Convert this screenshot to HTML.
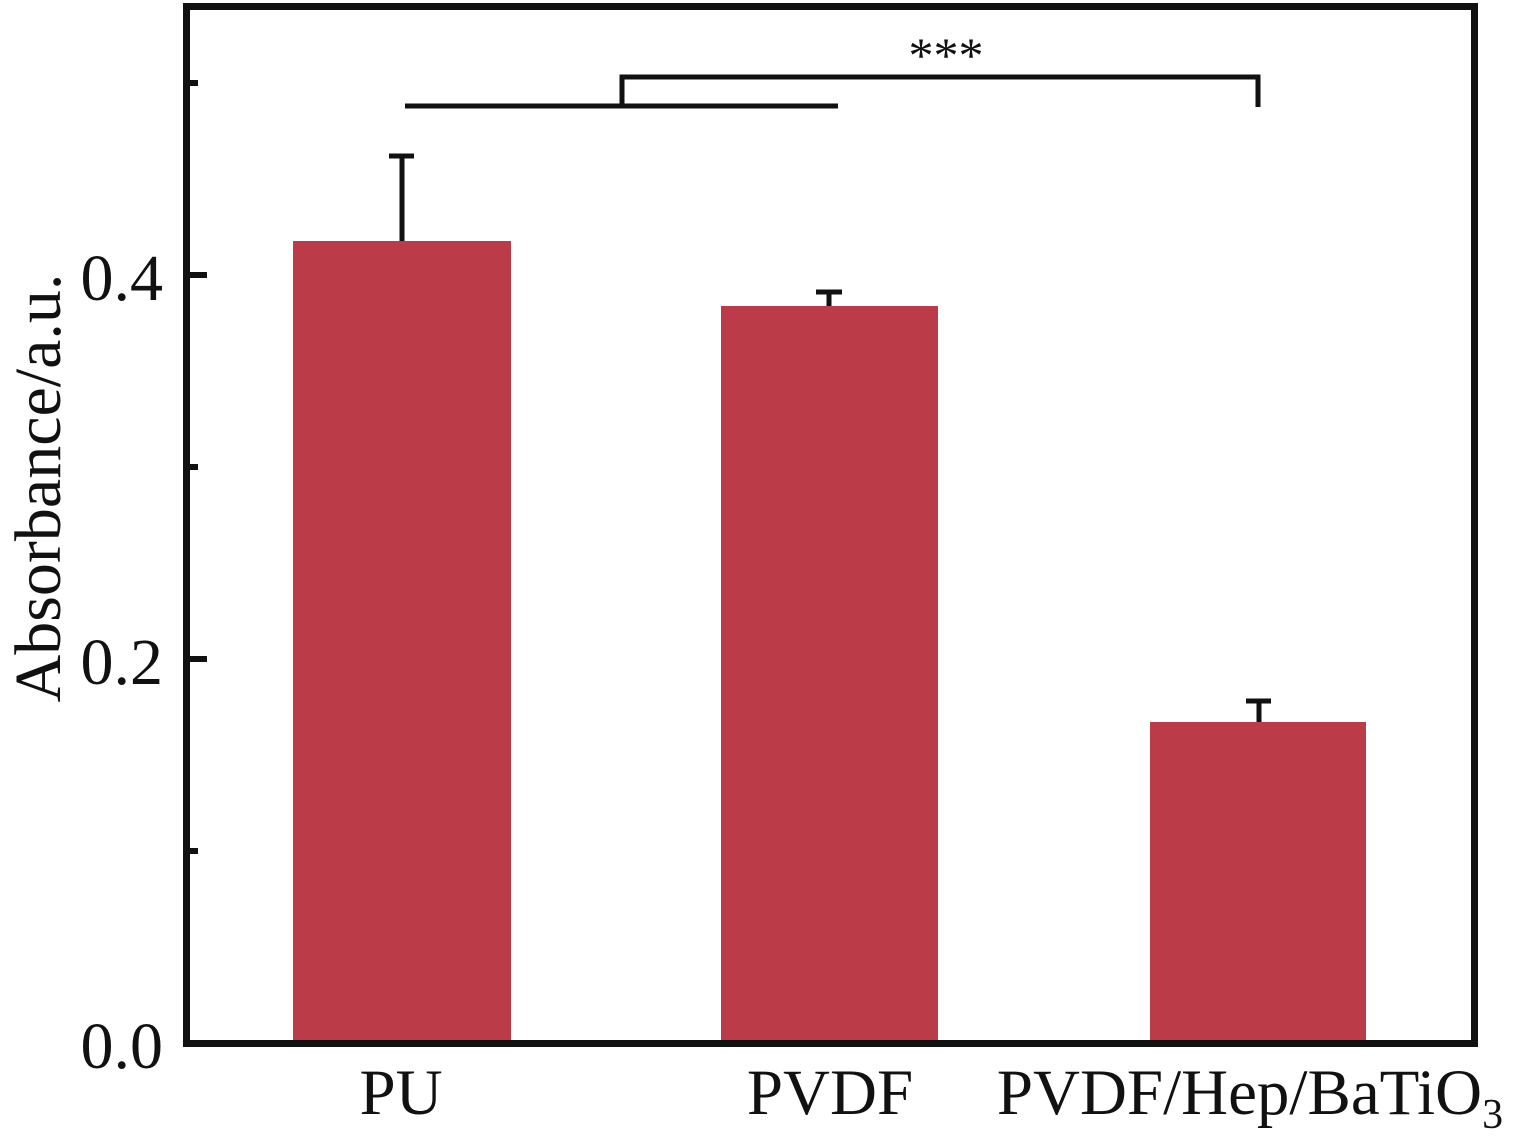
<!DOCTYPE html>
<html><head><meta charset="utf-8"><style>body{margin:0;background:#fff}</style></head>
<body>
<svg width="1528" height="1133" xmlns="http://www.w3.org/2000/svg" font-family="Liberation Serif, serif" fill="#111">
<rect x="0" y="0" width="1528" height="1133" fill="#fff"/>
<g fill="#bb3c48">
<rect x="293" y="241" width="218" height="802"/>
<rect x="721" y="306" width="217" height="737"/>
<rect x="1150" y="722" width="216" height="321"/>
</g>
<g stroke="#111" stroke-width="5">
<line x1="402" y1="241" x2="402" y2="156"/><line x1="389" y1="156" x2="414" y2="156"/>
<line x1="829" y1="306" x2="829" y2="292"/><line x1="816" y1="292" x2="842" y2="292"/>
<line x1="1259" y1="722" x2="1259" y2="701"/><line x1="1246" y1="701" x2="1271" y2="701"/>
</g>
<rect x="186.5" y="6.5" width="1288" height="1037" fill="none" stroke="#111" stroke-width="7"/>
<g stroke="#111" stroke-width="6">
<line x1="186" y1="275" x2="207" y2="275"/>
<line x1="186" y1="659" x2="207" y2="659"/>
<line x1="186" y1="851" x2="198" y2="851"/>
<line x1="186" y1="467" x2="198" y2="467"/>
<line x1="186" y1="83" x2="198" y2="83"/>
</g>
<g stroke="#111" stroke-width="5" fill="none">
<line x1="405" y1="106" x2="838" y2="106"/>
<polyline points="622,106 622,77 1258,77 1258,107"/>
</g>
<text x="946" y="72" font-size="50" text-anchor="middle">***</text>
<g font-size="66" text-anchor="end">
<text x="163" y="1068">0.0</text>
<text x="163" y="684">0.2</text>
<text x="163" y="300">0.4</text>
</g>
<text transform="translate(60,488) rotate(-90)" font-size="66" text-anchor="middle">Absorbance/a.u.</text>
<g font-size="65" text-anchor="middle">
<text x="401" y="1114">PU</text>
<text x="830" y="1114">PVDF</text>
<text x="1250" y="1114">PVDF/Hep/BaTiO<tspan font-size="42" dy="14">3</tspan></text>
</g>
</svg>
</body></html>
